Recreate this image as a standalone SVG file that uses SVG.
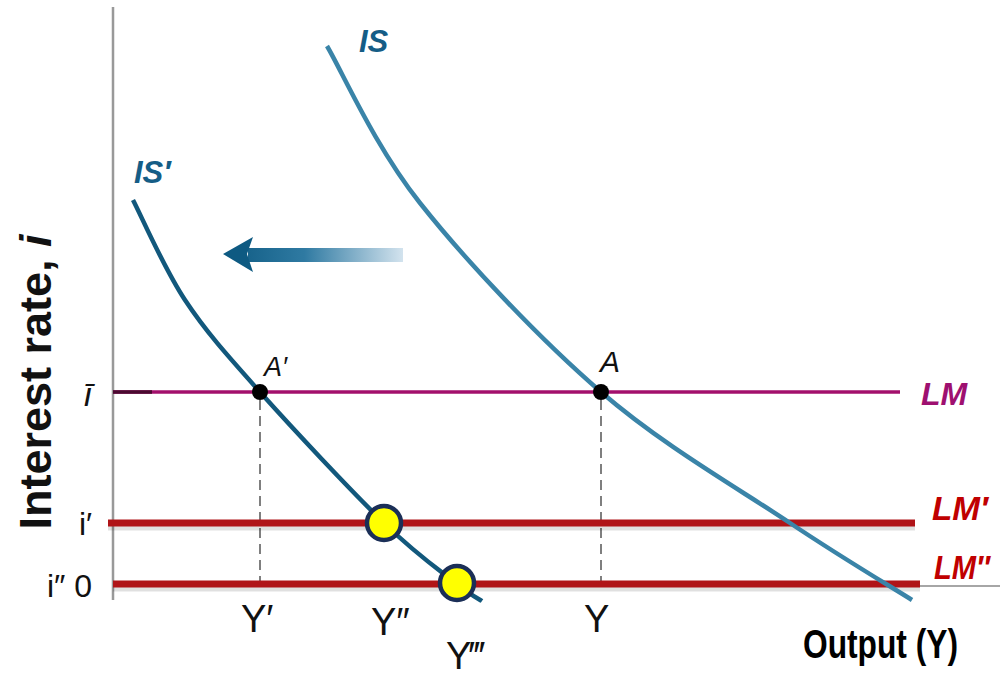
<svg xmlns="http://www.w3.org/2000/svg" width="1000" height="675" viewBox="0 0 1000 675">
<style>
.curve{fill:none;stroke-linecap:butt}
.dash{stroke:#555;stroke-width:1.5;stroke-dasharray:10 6}
.lbl{font-family:"Liberation Sans",Arial,sans-serif}
.tick{font-family:"Liberation Sans",Arial,sans-serif;font-size:38px;fill:#111}
.lm{font-family:"Liberation Sans",Arial,sans-serif;font-weight:bold;font-style:italic}
.red{stroke:#b01418;stroke-width:7}
.shadow{stroke:#000;stroke-opacity:0.12;stroke-width:5}
.yel{fill:#ffff00;stroke:#1b2f57;stroke-width:4.5}
</style>
<defs>
<linearGradient id="ag" x1="224" y1="0" x2="403" y2="0" gradientUnits="userSpaceOnUse">
<stop offset="0" stop-color="#0e5a82"/>
<stop offset="0.45" stop-color="#2f7aa2"/>
<stop offset="1" stop-color="#d3e3ee"/>
</linearGradient>
</defs>
<rect width="1000" height="675" fill="#fff"/>
<g id="axes">
<line x1="113" y1="7" x2="113" y2="600" stroke="#999" stroke-width="2.5"/>
<line x1="113" y1="586" x2="1000" y2="586" stroke="#888" stroke-width="1.5"/>
<text class="lbl" transform="translate(51,382) rotate(-90)" text-anchor="middle" font-size="45" font-weight="bold" fill="#111">Interest rate, <tspan font-style="italic">i</tspan></text>
<text class="lbl" x="803" y="658" font-size="40" font-weight="bold" fill="#000" textLength="155" lengthAdjust="spacingAndGlyphs">Output (Y)</text>
</g>
<g id="connectors">
<line class="dash" x1="260" y1="400" x2="260" y2="582"/>
<line class="dash" x1="601" y1="400" x2="601" y2="582"/>
</g>
<g id="LM">
<line x1="113" y1="392" x2="900" y2="392" stroke="#a3106c" stroke-width="3.5"/>
<line x1="113" y1="392" x2="152" y2="392" stroke="#4a0a30" stroke-width="3.5"/>
<text class="lm" x="921" y="405" font-size="32" fill="#9e1070">LM</text>
</g>
<g id="LM1">
<line class="shadow" x1="108" y1="528" x2="915" y2="528"/>
<line class="red" x1="108" y1="523" x2="915" y2="523"/>
<text class="lm" x="932" y="520" font-size="34" fill="#c00000" textLength="56" lengthAdjust="spacingAndGlyphs">LM′</text>
</g>
<g id="LM2">
<line class="shadow" x1="113" y1="589" x2="920" y2="589"/>
<line class="red" x1="113" y1="584" x2="920" y2="584"/>
<text class="lm" x="934" y="579" font-size="33" fill="#c00000" textLength="56" lengthAdjust="spacingAndGlyphs">LM″</text>
</g>
<g id="IS">
<path class="curve" stroke="#3a84a8" stroke-width="4.5" d="M327,46 C342.5,72.2 374.3,145.3 420,203 C465.7,260.7 539.3,338.7 601,392 C662.7,445.3 738.2,488.3 790,523 C841.8,557.7 891.7,587.2 912,600"/>
<text class="lm" x="359" y="52" font-size="31" fill="#155d86">IS</text>
</g>
<g id="IS1">
<path class="curve" stroke="#12587c" stroke-width="4.5" d="M133,200 C141.7,216.7 163.8,268 185,300 C206.2,332 226.8,354.8 260,392 C293.2,429.2 351.2,491 384,523 C416.8,555 440.7,571 457,584 C473.3,597 477.8,598.2 482,601"/>
<text class="lm" x="134" y="183" font-size="31" fill="#155d86">IS′</text>
</g>
<g id="shift-arrow">
<rect x="248" y="248" width="155" height="14" fill="url(#ag)"/>
<polygon points="223,254 253,237 247,254 253,272" fill="#0e5a82"/>
</g>
<g id="A1">
<circle cx="260" cy="392" r="8" fill="#000"/>
<text class="lbl" x="264" y="376" font-size="27" font-style="italic" fill="#111">A′</text>
</g>
<g id="A">
<circle cx="601" cy="392" r="8" fill="#000"/>
<text class="lbl" x="600" y="372" font-size="30" font-style="italic" fill="#111">A</text>
</g>
<g id="E1"><circle class="yel" cx="384" cy="523" r="17"/></g>
<g id="E2"><circle class="yel" cx="457" cy="583" r="17"/></g>
<g id="yticks">
<text class="lbl" x="84" y="406" font-size="34" font-style="italic" fill="#111">ī</text>
<text class="lbl" x="79" y="535" font-size="32" fill="#111">i′</text>
<text class="lbl" x="47" y="597" font-size="32" fill="#111">i″ 0</text>
</g>
<g id="xticks">
<text class="tick" x="241" y="632">Y′</text>
<text class="tick" x="371" y="635">Y″</text>
<text class="tick" x="446" y="669">Y‴</text>
<text class="tick" x="584" y="632">Y</text>
</g>
</svg>
